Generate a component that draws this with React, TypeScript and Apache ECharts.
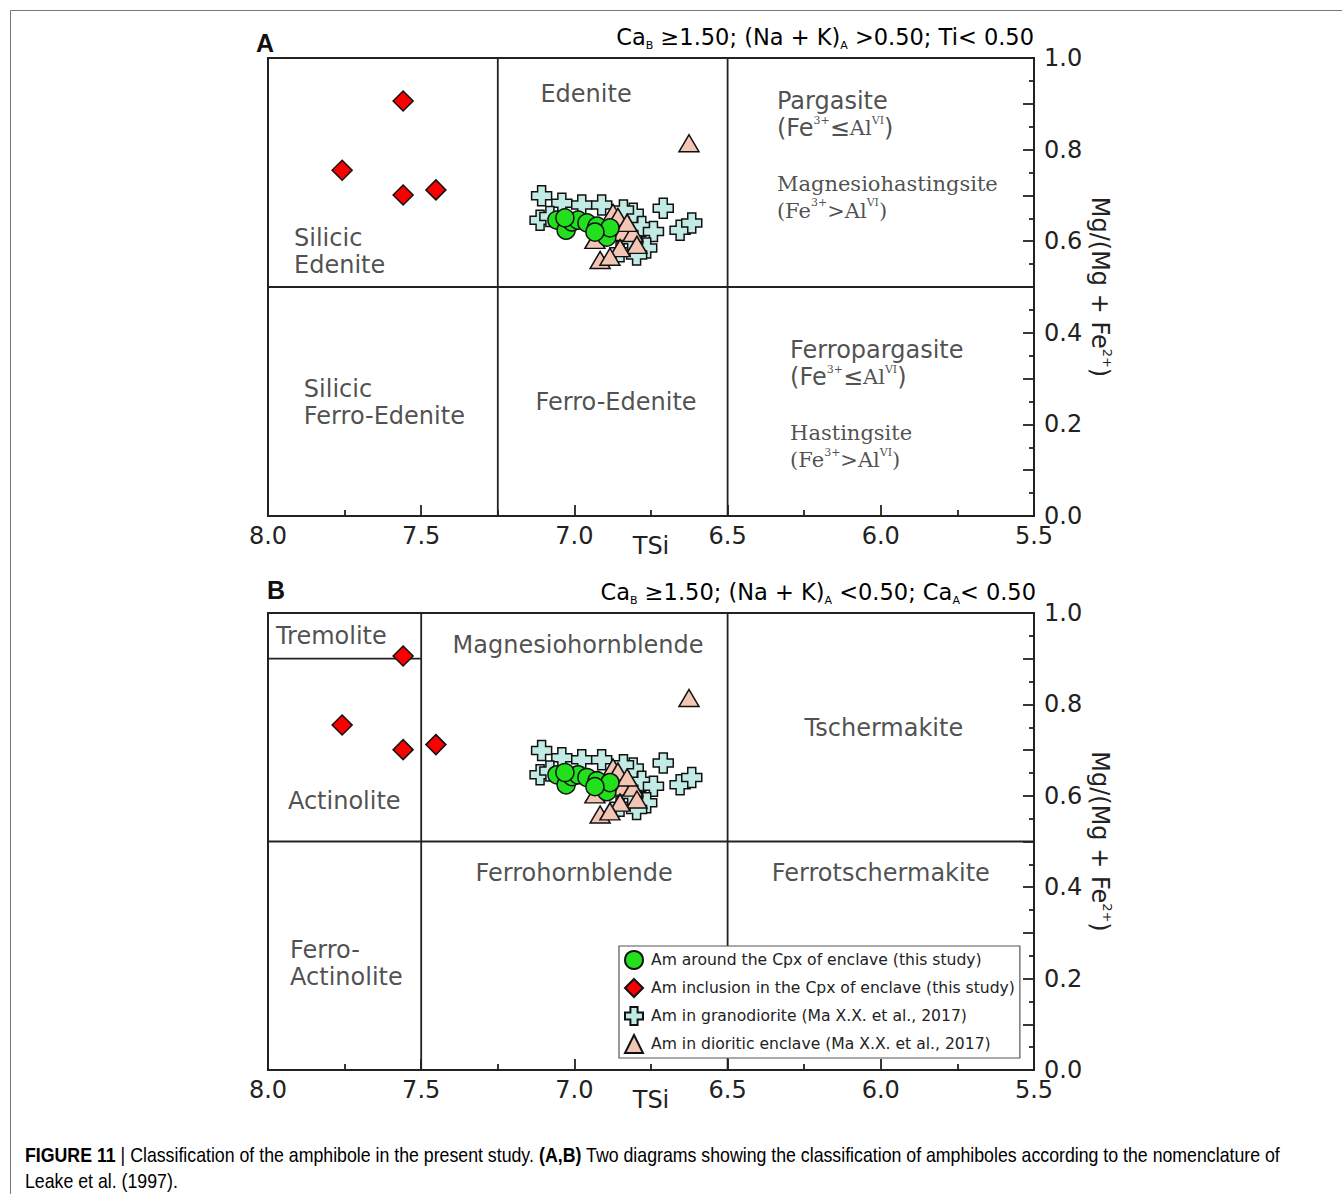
import React, { useEffect, useRef } from 'react';
import * as echarts from 'echarts';

// ---------- data: [TSi, Mg/(Mg+Fe2+)] ----------
const amAroundCpx: number[][] = [
  [7.057, 0.646], [7.027, 0.624], [7.008, 0.642], [6.988, 0.646], [6.959, 0.64],
  [6.926, 0.633], [6.894, 0.609], [6.884, 0.629], [6.933, 0.62], [7.031, 0.651],
];
const amInclusionCpx: number[][] = [
  [7.559, 0.906], [7.758, 0.755], [7.559, 0.701], [7.452, 0.712],
];
const amGranodiorite: number[][] = [
  [7.107, 0.699], [7.112, 0.646], [7.041, 0.683], [6.976, 0.679], [6.911, 0.679],
  [6.71, 0.672], [6.808, 0.661], [6.78, 0.632], [6.742, 0.621], [6.655, 0.624],
  [6.617, 0.64], [6.764, 0.585], [6.797, 0.57], [7.08, 0.654], [6.851, 0.577],
  [6.813, 0.603], [6.84, 0.668],
];
const amDioriticEnclave: number[][] = [
  [6.874, 0.662], [6.858, 0.653], [6.841, 0.62], [6.809, 0.618], [6.796, 0.592],
  [6.851, 0.585], [6.916, 0.559], [6.884, 0.566], [6.933, 0.603], [6.828, 0.64],
  [6.626, 0.814],
];

const seriesNames = [
  'Am around the Cpx of enclave (this study)',
  'Am inclusion in the Cpx of enclave (this study)',
  'Am in granodiorite (Ma X.X. et al., 2017)',
  'Am in dioritic enclave (Ma X.X. et al., 2017)',
];

// field boundaries (segments in TSi / Mg# space)
const boundariesA: number[][][] = [
  [[7.25, 0], [7.25, 1]],
  [[6.5, 0], [6.5, 1]],
  [[8.0, 0.5], [5.5, 0.5]],
];
const boundariesB: number[][][] = [
  [[7.5, 0], [7.5, 1]],
  [[6.5, 0], [6.5, 1]],
  [[8.0, 0.5], [5.5, 0.5]],
  [[8.0, 0.9], [7.5, 0.9]],
];

// field names (anchored in data space)
const fieldLabelsA = [
  { t: '{t|Edenite}', x: 6.962, y: 0.921, align: 'center' },
  { t: '{t|Pargasite}', x: 6.339, y: 0.906 },
  { t: '{t|(Fe}{sp|3+}{t|≤}{s|Al}{sp|VI}{t|)}', x: 6.339, y: 0.847 },
  { t: '{s|Magnesiohastingsite}', x: 6.339, y: 0.725 },
  { t: '{s|(Fe}{sp|3+}{s|>Al}{sp|VI}{s|)}', x: 6.339, y: 0.666 },
  { t: '{t|Silicic}\n{t|Edenite}', x: 7.915, y: 0.578 },
  { t: '{t|Silicic}\n{t|Ferro-Edenite}', x: 7.883, y: 0.248 },
  { t: '{t|Ferro-Edenite}', x: 6.864, y: 0.249, align: 'center' },
  { t: '{t|Ferropargasite}', x: 6.296, y: 0.362 },
  { t: '{t|(Fe}{sp|3+}{t|≤}{s|Al}{sp|VI}{t|)}', x: 6.296, y: 0.303 },
  { t: '{s|Hastingsite}', x: 6.296, y: 0.181 },
  { t: '{s|(Fe}{sp|3+}{s|>Al}{sp|VI}{s|)}', x: 6.296, y: 0.122 },
];
const fieldLabelsB = [
  { t: '{t|Tremolite}', x: 7.974, y: 0.95 },
  { t: '{t|Magnesiohornblende}', x: 6.988, y: 0.93, align: 'center' },
  { t: '{t|Tschermakite}', x: 5.99, y: 0.748, align: 'center' },
  { t: '{t|Actinolite}', x: 7.935, y: 0.589 },
  { t: '{t|Ferrohornblende}', x: 7.001, y: 0.431, align: 'center' },
  { t: '{t|Ferrotschermakite}', x: 6.0, y: 0.431, align: 'center' },
  { t: '{t|Ferro-}\n{t|Actinolite}', x: 7.928, y: 0.233 },
];

const SANS = 'DejaVu Sans';
const SERIF = 'DejaVu Serif';
const INK = '#222';

const labelRich = {
  t: { fontFamily: SANS, fontSize: 24, color: INK, lineHeight: 27 },
  s: { fontFamily: SERIF, fontSize: 21, color: INK, lineHeight: 27 },
  sp: { fontFamily: SERIF, fontSize: 11, color: INK, verticalAlign: 'top', lineHeight: 11 },
};

const crossPath = 'path://M6,0H14V6H20V14H14V20H6V14H0V6H6Z';
const markerDefs = [
  { name: seriesNames[2], data: amGranodiorite, symbol: crossPath, size: 20, color: '#c3ebe5' },
  { name: seriesNames[3], data: amDioriticEnclave, symbol: 'triangle', size: [20, 17], color: '#f2c5b5' },
  { name: seriesNames[0], data: amAroundCpx, symbol: 'circle', size: 18, color: '#22e01c' },
  { name: seriesNames[1], data: amInclusionCpx, symbol: 'diamond', size: 20, color: '#fa0000' },
];

function xAxisFor(g: number) {
  return {
    type: 'value', gridIndex: g, min: 5.5, max: 8, interval: 0.5, inverse: true,
    name: 'TSi', nameLocation: 'middle', nameGap: 18, nameMoveOverlap: false,
    nameTextStyle: { fontFamily: SANS, fontSize: 24, color: INK },
    axisLine: { show: true, onZero: false, lineStyle: { color: INK, width: 2 } },
    axisTick: { show: true, inside: true, length: 11, lineStyle: { color: INK, width: 1.8 } },
    minorTick: { show: true, splitNumber: 2, length: 6, lineStyle: { color: INK, width: 1.8 } },
    axisLabel: { fontFamily: SANS, fontSize: 24, color: INK, margin: 8, formatter: (v: number) => v.toFixed(1) },
    splitLine: { show: false }, minorSplitLine: { show: false },
  };
}
function yAxisFor(g: number) {
  return {
    type: 'value', gridIndex: g, min: 0, max: 1, interval: 0.1, position: 'right',
    name: 'Mg/(Mg + Fe{sup|2+})', nameLocation: 'middle', nameRotate: -90, nameGap: 52, nameMoveOverlap: false,
    nameTextStyle: {
      fontFamily: SANS, fontSize: 24, color: INK, lineHeight: 28,
      rich: { sup: { fontFamily: SANS, fontSize: 13, color: INK, verticalAlign: 'top', lineHeight: 13 } },
    },
    axisLine: { show: true, onZero: false, lineStyle: { color: INK, width: 2 } },
    axisTick: { show: true, inside: true, length: 11, lineStyle: { color: INK, width: 1.8 } },
    minorTick: { show: true, splitNumber: 2, length: 5, lineStyle: { color: INK, width: 1.8 } },
    axisLabel: {
      fontFamily: SANS, fontSize: 24, color: INK, margin: 10,
      formatter: (v: number) => { const k = Math.round(v * 10); return k % 2 === 0 ? (k / 10).toFixed(1) : ''; },
    },
    splitLine: { show: false }, minorSplitLine: { show: false },
  };
}

function seriesFor(g: number, boundaries: number[][][], labels: any[]) {
  const out: any[] = [];
  boundaries.forEach((seg) => {
    out.push({
      type: 'line', xAxisIndex: g, yAxisIndex: g, data: seg, symbol: 'none', silent: true,
      lineStyle: { color: INK, width: 1.8 }, z: 1,
    });
  });
  out.push({
    type: 'scatter', xAxisIndex: g, yAxisIndex: g, silent: true, symbolSize: 0,
    itemStyle: { color: 'transparent' }, z: 2,
    data: labels.map((l) => ({
      value: [l.x, l.y],
      label: {
        show: true, position: 'inside', formatter: l.t, align: l.align || 'left', verticalAlign: 'middle',
        rich: labelRich,
      },
    })),
  });
  markerDefs.forEach((m) => {
    out.push({
      type: 'scatter', name: m.name, xAxisIndex: g, yAxisIndex: g, data: m.data,
      symbol: m.symbol, symbolSize: m.size, z: 3,
      itemStyle: { color: m.color, borderColor: '#111', borderWidth: 1.5, opacity: 1 },
      emphasis: { disabled: true },
    });
  });
  return out;
}

const titleRich = {
  m: { fontFamily: SANS, fontSize: 22.5, color: INK, lineHeight: 28 },
  sub: { fontFamily: SANS, fontSize: 11, color: INK, verticalAlign: 'bottom', lineHeight: 11 },
};

const CAP = 'Liberation Sans';
const captionRich = {
  b: { fontFamily: CAP, fontSize: 20, fontWeight: 'bold', color: '#111' },
  n: { fontFamily: CAP, fontSize: 20, color: '#333' },
  g: { fontFamily: CAP, fontSize: 20, color: '#999' },
};

function textEl(x: number, y: number, text: string, extra: any, scaleX = 1) {
  return {
    type: 'text', x, y, scaleX,
    style: { text, ...extra },
  };
}

const option: any = {
  animation: false,
  backgroundColor: '#fff',
  grid: [
    { left: 268, top: 58, width: 766, height: 458, show: true, borderColor: INK, borderWidth: 2 },
    { left: 268, top: 613, width: 766, height: 457, show: true, borderColor: INK, borderWidth: 2 },
  ],
  xAxis: [xAxisFor(0), xAxisFor(1)],
  yAxis: [yAxisFor(0), yAxisFor(1)],
  legend: {
    data: [seriesNames[0], seriesNames[1], seriesNames[2], seriesNames[3]],
    orient: 'vertical', left: 619, top: 946,
    itemWidth: 18, itemHeight: 18, itemGap: 8,
    padding: [4, 5, 4, 5], borderColor: '#555', borderWidth: 1.2, backgroundColor: '#fff',
    textStyle: { fontFamily: SANS, fontSize: 15.6, color: INK, padding: [0, 0, 0, 3] },
    selectedMode: false,
  },
  series: [...seriesFor(0, boundariesA, fieldLabelsA), ...seriesFor(1, boundariesB, fieldLabelsB)],
  graphic: [
    { type: 'line', shape: { x1: 10.5, y1: 10.5, x2: 1342, y2: 10.5 }, style: { stroke: '#777', lineWidth: 1 } },
    { type: 'line', shape: { x1: 10.5, y1: 10.5, x2: 10.5, y2: 1194 }, style: { stroke: '#777', lineWidth: 1 } },
    textEl(265, 43, 'A', { fontFamily: 'Liberation Sans', fontSize: 25, fontWeight: 'bold', fill: '#111', align: 'center', textAlign: 'center', verticalAlign: 'middle', textVerticalAlign: 'middle' }),
    textEl(276, 590, 'B', { fontFamily: 'Liberation Sans', fontSize: 25, fontWeight: 'bold', fill: '#111', align: 'center', textAlign: 'center', verticalAlign: 'middle', textVerticalAlign: 'middle' }),
    textEl(1034, 37, '{m|Ca}{sub|B}{m| ≥1.50; (Na + K)}{sub|A}{m| >0.50; Ti< 0.50}', { rich: titleRich, align: 'right', textAlign: 'right', verticalAlign: 'middle', textVerticalAlign: 'middle' }),
    textEl(1036, 592, '{m|Ca}{sub|B}{m| ≥1.50; (Na + K)}{sub|A}{m| <0.50; Ca}{sub|A}{m|< 0.50}', { rich: titleRich, align: 'right', textAlign: 'right', verticalAlign: 'middle', textVerticalAlign: 'middle' }),
    textEl(25, 1155, '{b|FIGURE 11 }{n|| Classification of the amphibole in the present study. }{b|(A,B)}{n| Two diagrams showing the classification of amphiboles according to the nomenclature of}', { rich: captionRich, align: 'left', textAlign: 'left', verticalAlign: 'middle', textVerticalAlign: 'middle' }, 0.887),
    textEl(25, 1181, '{g|Leake et al. (1997)}{n|.}', { rich: captionRich, align: 'left', textAlign: 'left', verticalAlign: 'middle', textVerticalAlign: 'middle' }, 0.887),
  ],
};

export default function App() {
  const ref = useRef<HTMLDivElement>(null);
  useEffect(() => {
    if (!ref.current) return;
    const chart = echarts.init(ref.current, null, { renderer: 'svg' });
    chart.setOption(option);
    return () => chart.dispose();
  }, []);
  return (
    <div
      ref={ref}
      style={{ position: 'absolute', left: 0, top: 0, width: 1342, height: 1194, background: '#fff' }}
    />
  );
}
